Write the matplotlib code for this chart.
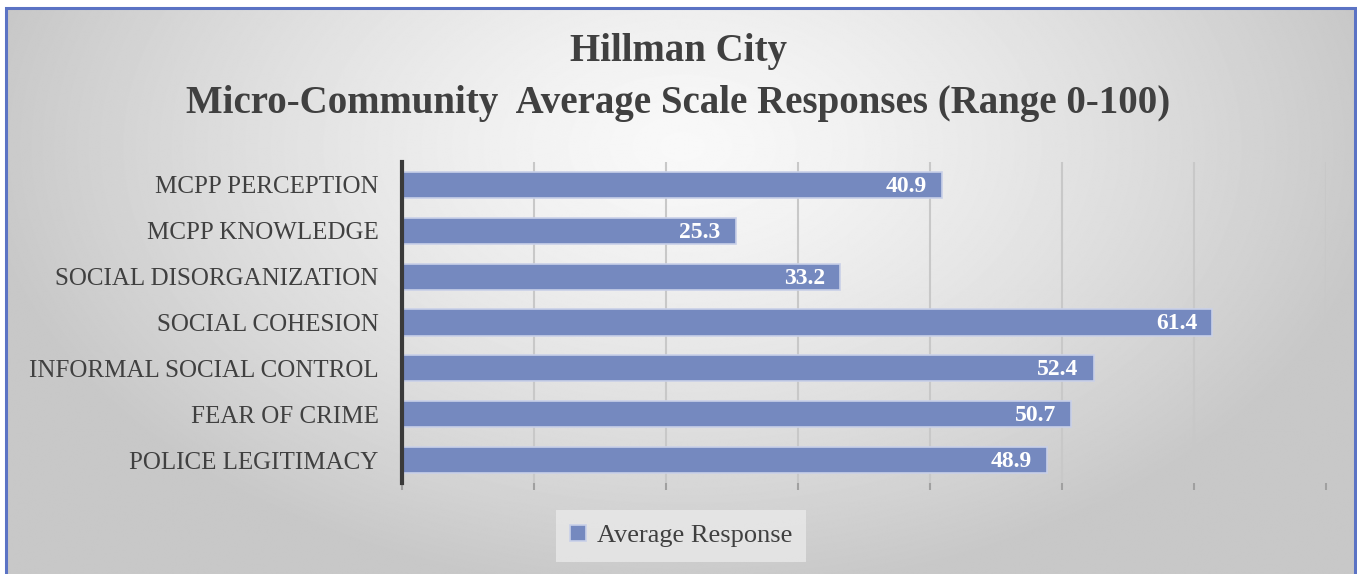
import numpy as np
import matplotlib.pyplot as plt
from matplotlib.patches import Rectangle

categories = ["MCPP PERCEPTION", "MCPP KNOWLEDGE", "SOCIAL DISORGANIZATION",
              "SOCIAL COHESION", "INFORMAL SOCIAL CONTROL", "FEAR OF CRIME",
              "POLICE LEGITIMACY"]
values = [40.9, 25.3, 33.2, 61.4, 52.4, 50.7, 48.9]
series_name = "Average Response"
title_lines = ["Hillman City",
               "Micro-Community  Average Scale Responses (Range 0-100)"]

W, H = 1357, 574
plt.rcParams["font.family"] = ["Liberation Serif", "DejaVu Serif"]
text_color = "#404040"
bar_color = "#7589bf"

fig = plt.figure(figsize=(W / 100, H / 100), dpi=100)
fig.patch.set_facecolor("white")

# radial grey background inside the frame
bg = fig.add_axes([6 / W, 0, (1355 - 6) / W, 1 - 8 / H], zorder=-10)
yy, xx = np.mgrid[0:H, 0:W]
dx = (xx - 680) / 700
dy = (yy - 140) / 450
d = np.clip(np.sqrt(dx ** 2 + dy ** 2), 0, 1)
shade = 0.975 - 0.19 * d ** 1.3
bg.imshow(shade, cmap="gray", vmin=0, vmax=1, aspect="auto",
          extent=[0, 1, 0, 1])
bg.axis("off")

# blue frame
fig.patches.append(Rectangle((6 / W, -0.02), (1355 - 6) / W, 1 - 8 / H + 0.02,
                             transform=fig.transFigure, fill=False,
                             edgecolor="#5b73c4", linewidth=2.2, zorder=5))

ax = fig.add_axes([402 / W, 1 - 483 / H, (1326 - 402) / W, (483 - 162) / H])
ax.set_facecolor("none")

y = np.arange(len(categories))
bars = ax.barh(y, values, height=0.57, color=bar_color,
               edgecolor="#c9d0e8", linewidth=1.2, zorder=3)
ax.set_ylim(len(categories) - 0.5, -0.5)
ax.set_xlim(0, 70)

for v, yi in zip(values, y):
    ax.annotate(f"{v:.1f}", (v, yi), xytext=(-11, -1), textcoords="offset points",
                ha="right", va="center", color="white", fontsize=17,
                fontweight="bold", zorder=4)

ax.set_yticks(y)
ax.set_yticklabels(categories, fontsize=18, color=text_color)
ax.tick_params(axis="y", length=0, pad=17)
ax.set_xticks(np.arange(0, 71, 10))
ax.set_xticklabels([])
ax.tick_params(axis="x", length=5, width=1.5, color="#a0a0a0")
ax.grid(axis="x", color="#c8c8c8", linewidth=1.5, zorder=0)
ax.set_axisbelow(True)

for s in ["top", "right", "bottom"]:
    ax.spines[s].set_visible(False)
ax.spines["left"].set_color("#3a3a3a")
ax.spines["left"].set_linewidth(3)
ax.spines["left"].set_zorder(5)

fig.text(0.5, 1 - 52 / H, title_lines[0], ha="center", va="center",
         fontsize=28, fontweight="bold", color=text_color)
fig.text(0.5, 1 - 103 / H, title_lines[1], ha="center", va="center",
         fontsize=28, fontweight="bold", color=text_color)

leg = fig.legend([bars], [series_name], loc="center", bbox_to_anchor=(681 / W, 1 - 536 / H),
                 fontsize=19, frameon=True, fancybox=False, handlelength=0.6,
                 handleheight=0.6, handletextpad=0.4, borderpad=0.55,
                 borderaxespad=0)
leg.get_frame().set_facecolor("#e9e9e9")
leg.get_frame().set_edgecolor("none")
leg.get_frame().set_alpha(0.8)
for t in leg.get_texts():
    t.set_color(text_color)

fig.savefig("out.png", dpi=100)
